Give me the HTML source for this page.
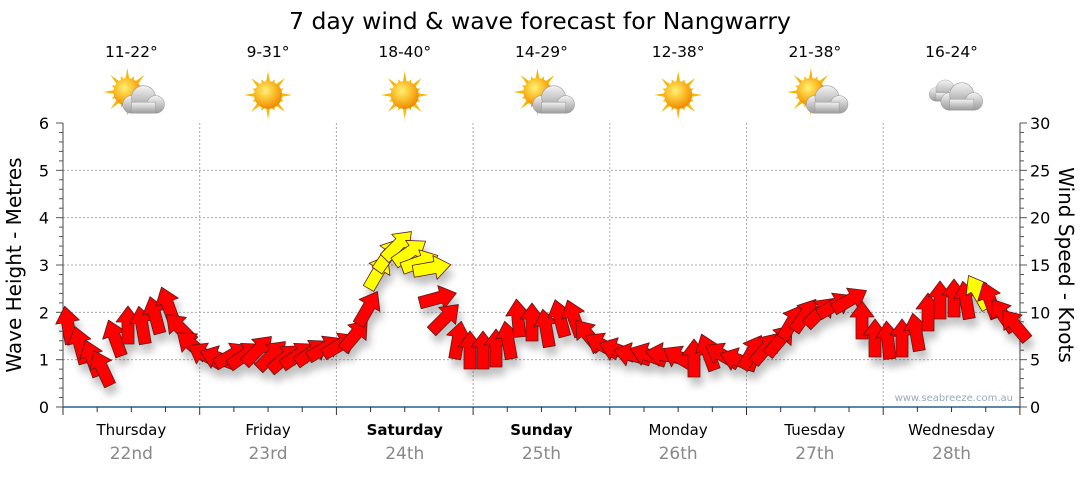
<!DOCTYPE html>
<html><head><meta charset="utf-8"><style>
body{margin:0;background:#fff;width:1080px;height:475px;overflow:hidden}
text{font-family:"DejaVu Sans","Liberation Sans",sans-serif}
</style></head><body>
<svg id="s" width="1080" height="475" xmlns="http://www.w3.org/2000/svg">
<defs>
<radialGradient id="sun" cx="40%" cy="35%" r="65%"><stop offset="0" stop-color="#fff176"/><stop offset="0.5" stop-color="#fbc02d"/><stop offset="1" stop-color="#f08a00"/></radialGradient>
<linearGradient id="cl" x1="0" y1="0" x2="0" y2="1"><stop offset="0" stop-color="#f4f4f4"/><stop offset="1" stop-color="#9a9a9a"/></linearGradient>
<filter id="sh" x="-50%" y="-50%" width="200%" height="200%"><feGaussianBlur in="SourceAlpha" stdDeviation="4"/><feOffset dx="3" dy="8"/><feComponentTransfer><feFuncA type="linear" slope="0.25"/></feComponentTransfer><feMerge><feMergeNode/><feMergeNode in="SourceGraphic"/></feMerge></filter>
</defs>
<text x="540" y="29" font-size="23.5" text-anchor="middle" fill="#000">7 day wind &amp; wave forecast for Nangwarry</text>
<g id="grid"></g>
<g id="icons"></g>
<g id="arrows" filter="url(#sh)"></g>
<text x="1013" y="401" font-size="10" text-anchor="end" fill="#9ab">www.seabreeze.com.au</text>
<text transform="translate(21,265) rotate(-90)" font-size="20" text-anchor="middle">Wave Height - Metres</text>
<text transform="translate(1059,265) rotate(90)" font-size="20" text-anchor="middle">Wind Speed - Knots</text>
</svg>
<script>
const NS="http://www.w3.org/2000/svg",s=document.getElementById('s');
function el(t,a,p){const e=document.createElementNS(NS,t);for(const k in a)e.setAttribute(k,a[k]);(p||s).appendChild(e);return e}
const g=document.getElementById('grid'),X0=63,X1=1020,Y0=407,YT=123,DW=136.7,MH=(Y0-YT)/6;
for(let i=1;i<6;i++){const y=Y0-i*MH;el('line',{x1:X0,x2:X1,y1:y,y2:y,stroke:'#aaa','stroke-dasharray':'2,2'},g)}
for(let i=1;i<7;i++){const x=X0+i*DW;el('line',{x1:x,x2:x,y1:YT,y2:Y0,stroke:'#aaa','stroke-dasharray':'2,2'},g)}
el('line',{x1:X0,x2:X0,y1:YT,y2:Y0,stroke:'#444'},g);
el('line',{x1:X1,x2:X1,y1:YT,y2:Y0,stroke:'#444'},g);
for(let i=0;i<=30;i++){const y=Y0-i*MH/5,big=i%5==0;
 el('line',{x1:X0-(big?7:4),x2:X0,y1:y,y2:y,stroke:'#555'},g);
 el('line',{x1:X1,x2:X1+(big?7:4),y1:y,y2:y,stroke:'#555'},g);
 if(big){el('text',{x:49,y:y+6,'font-size':16,'text-anchor':'end'},g).textContent=i/5;
 el('text',{x:1030,y:y+6,'font-size':16},g).textContent=i;}}
el('line',{x1:X0,x2:X1,y1:Y0,y2:Y0,stroke:'#2a5f8a','stroke-width':1.5},g);
for(let i=0;i<=28;i++){const x=X0+i*DW/4;el('line',{x1:x,x2:x,y1:Y0,y2:Y0+(i%4==0?8:5),stroke:'#333'},g)}
const days=['Thursday','Friday','Saturday','Sunday','Monday','Tuesday','Wednesday'],dates=['22nd','23rd','24th','25th','26th','27th','28th'],temps=['11-22°','9-31°','18-40°','14-29°','12-38°','21-38°','16-24°'],ic=['sc','s','s','sc','s','sc','c'];
const ig=document.getElementById('icons');
function sun(cx,cy){for(let k=0;k<16;k++){const a=k*Math.PI/8,l=k%2?17:24;const p=[[cx+Math.cos(a)*l,cy+Math.sin(a)*l],[cx+Math.cos(a+.18)*12,cy+Math.sin(a+.18)*12],[cx+Math.cos(a-.18)*12,cy+Math.sin(a-.18)*12]];el('polygon',{points:p.map(q=>q.join(',')).join(' '),fill:'#f6b800'},ig)}el('circle',{cx,cy,r:14,fill:'url(#sun)'},ig)}
function cloud(cx,cy,sc){const gg=el('g',{transform:`translate(${cx},${cy}) scale(${sc})`,fill:'url(#cl)',stroke:'#999','stroke-width':.5},ig);el('circle',{cx:-9,cy:4,r:8},gg);el('circle',{cx:2,cy:-2,r:11},gg);el('circle',{cx:13,cy:4,r:8},gg);el('rect',{x:-9,y:2,width:22,height:10},gg)}
for(let i=0;i<7;i++){const cx=X0+DW*(i+.5);
 el('text',{x:cx,y:57,'font-size':15.5,'text-anchor':'middle'}).textContent=temps[i];
 if(ic[i]=='s')sun(cx,95);
 if(ic[i]=='sc'){sun(cx-4,92);cloud(cx+10,100,1.1)}
 if(ic[i]=='c'){cloud(cx-8,91,.85);cloud(cx+8,97,1.1)}
 el('text',{x:cx,y:435,'font-size':15,'text-anchor':'middle','font-weight':(i==2||i==3)?'bold':'normal'}).textContent=days[i];
 el('text',{x:cx,y:459,'font-size':17,'text-anchor':'middle',fill:'#888'}).textContent=dates[i];}
const pts=[[68,325,-10],[80,345,-15],[92,358,-20],[102,368,-25],[115,338,-20],[128,325,0],[142,325,-10],[155,315,-15],[168,305,-20],[180,328,-45],[192,345,-50],[205,355,-60],[218,358,-70],[232,355,60],[245,355,55],[258,350,45],[272,355,45],[285,358,50],[298,355,55],[312,352,55],[325,348,60],[340,345,60],[355,335,40],[368,308,30],[378,272,30],[388,255,35],[398,245,45],[410,252,55],[420,262,70],[432,268,80],[438,298,75],[445,318,45],[458,340,10],[470,350,0],[483,350,0],[496,348,0],[508,340,-10],[518,318,-5],[532,322,0],[546,328,-10],[560,318,-15],[574,318,-20],[588,335,-40],[602,345,-60],[617,350,-70],[632,355,-75],[648,355,-70],[664,355,-80],[680,358,-60],[694,358,0],[708,352,-20],[722,355,-60],[738,360,-70],[752,352,30],[766,348,40],[780,340,40],[792,322,30],[805,315,35],[820,312,45],[835,305,60],[850,300,60],[862,320,0],[875,338,0],[888,340,-5],[902,338,0],[916,332,-10],[928,312,0],[940,300,0],[954,298,0],[966,300,-10],[978,292,-30],[990,300,-20],[1003,315,-35],[1015,325,-40]];
const ag=document.getElementById('arrows');
for(const [x,y,a] of pts){const yellow=y<294;
 el('polygon',{points:'0,-19 12,-3 6,-3 6,19 -6,19 -6,-3 -12,-3',transform:`translate(${x},${y}) rotate(${a})`,fill:yellow?'#ffff00':'#ff0000',stroke:'#5a1a1a','stroke-width':.8,'stroke-linejoin':'round'},ag)}
</script>
</body></html>
